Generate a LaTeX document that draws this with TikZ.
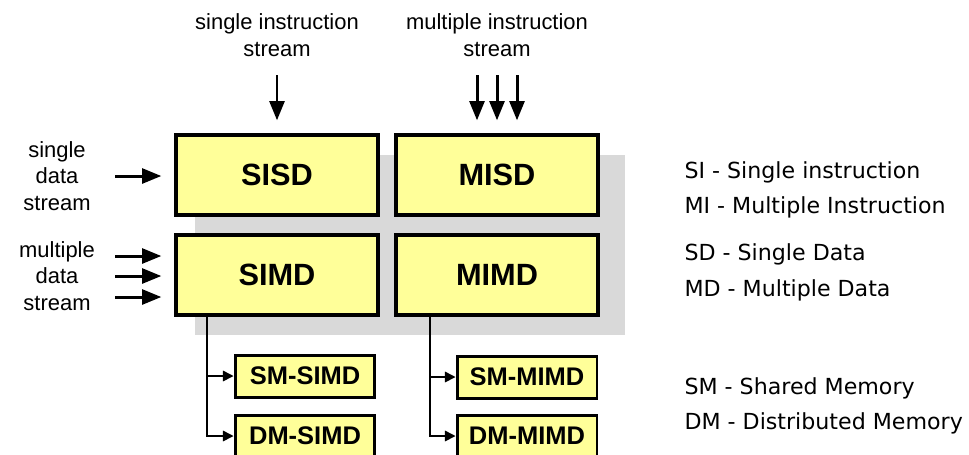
\documentclass[tikz,border=0pt]{standalone}
\usepackage{fontspec}
\setmainfont{Liberation Sans}
\newfontfamily\legendfont{DejaVu Sans}
\usetikzlibrary{arrows.meta}
\definecolor{boxyellow}{HTML}{FFFF99}
\definecolor{shadegray}{HTML}{D9D9D9}
\begin{document}
\begin{tikzpicture}
[x=0.02cm, y=-0.02cm,
 box/.style={draw=black, line width=1.9pt, fill=boxyellow, minimum width=4.04cm, minimum height=1.6cm, font=\fontsize{17.5}{20}\selectfont\bfseries},
 subbox/.style={draw=black, line width=1.7pt, fill=boxyellow, minimum width=2.8cm, minimum height=0.84cm, font=\fontsize{14.5}{17}\selectfont\bfseries},
 lbl/.style={align=center, font=\fontsize{12.5}{15}\selectfont},
 legend/.style={anchor=west, inner sep=0pt, font=\legendfont\fontsize{12.6}{15}\selectfont},
 branch/.style={->, line width=0.85pt, >={Triangle[length=6pt, width=6pt]}},
 >={Triangle[length=11pt, width=8.5pt]}, line width=1.7pt]
\useasboundingbox (0,0) rectangle (969,454);
\fill[shadegray] (195,155) rectangle (625,335);

\node (SISD) at (277,175) [box] {SISD};
\node (MISD) at (497,175) [box] {MISD};
\node (SIMD) at (277,275) [box] {SIMD};
\node (MIMD) at (497,275) [box] {MIMD};

\node (SMSIMD) at (305,376) [subbox] {SM-SIMD};
\node (DMSIMD) at (305,436) [subbox] {DM-SIMD};
\node (SMMIMD) at (527,377) [subbox] {SM-MIMD};
\node (DMMIMD) at (527,436) [subbox] {DM-MIMD};

\node (SIstream) at (277,35) [lbl] {single instruction\\stream};
\node (MIstream) at (497,35) [lbl] {multiple instruction\\stream};
\node (SDstream) at (57,176) [lbl] {single\\data\\stream};
\node (MDstream) at (57,276) [lbl] {multiple\\data\\stream};

% instruction streams
\coordinate (si) at (277,75);
\draw[->, shorten >=0.26cm] (si) -- (si |- SISD.north);
\foreach \x in {477,497,517} {
  \coordinate (mi\x) at (\x,75);
  \draw[->, shorten >=0.26cm] (mi\x) -- (mi\x |- MISD.north);
}

% data streams
\coordinate (sd) at (115,176);
\draw[->, shorten >=0.26cm] (sd) -- (sd -| SISD.west);
\foreach \y in {256,276,297} {
  \coordinate (md\y) at (115,\y);
  \draw[->, shorten >=0.26cm] (md\y) -- (md\y -| SIMD.west);
}

% memory variants
\coordinate (simdfork) at (207,315);
\coordinate (mimdfork) at (430,315);
\draw[branch] (simdfork) |- (SMSIMD);
\draw[branch] (simdfork) |- (DMSIMD);
\draw[branch] (mimdfork) |- (SMMIMD);
\draw[branch] (mimdfork) |- (DMMIMD);

\node (SI) at (683,172) [legend] {SI - Single instruction};
\node (MI) at (683,207) [legend] {MI - Multiple Instruction};
\node (SD) at (683,254) [legend] {SD - Single Data};
\node (MD) at (683,290) [legend] {MD - Multiple Data};
\node (SM) at (683,388) [legend] {SM - Shared Memory};
\node (DM) at (683,423) [legend] {DM - Distributed Memory};
\end{tikzpicture}
\end{document}
